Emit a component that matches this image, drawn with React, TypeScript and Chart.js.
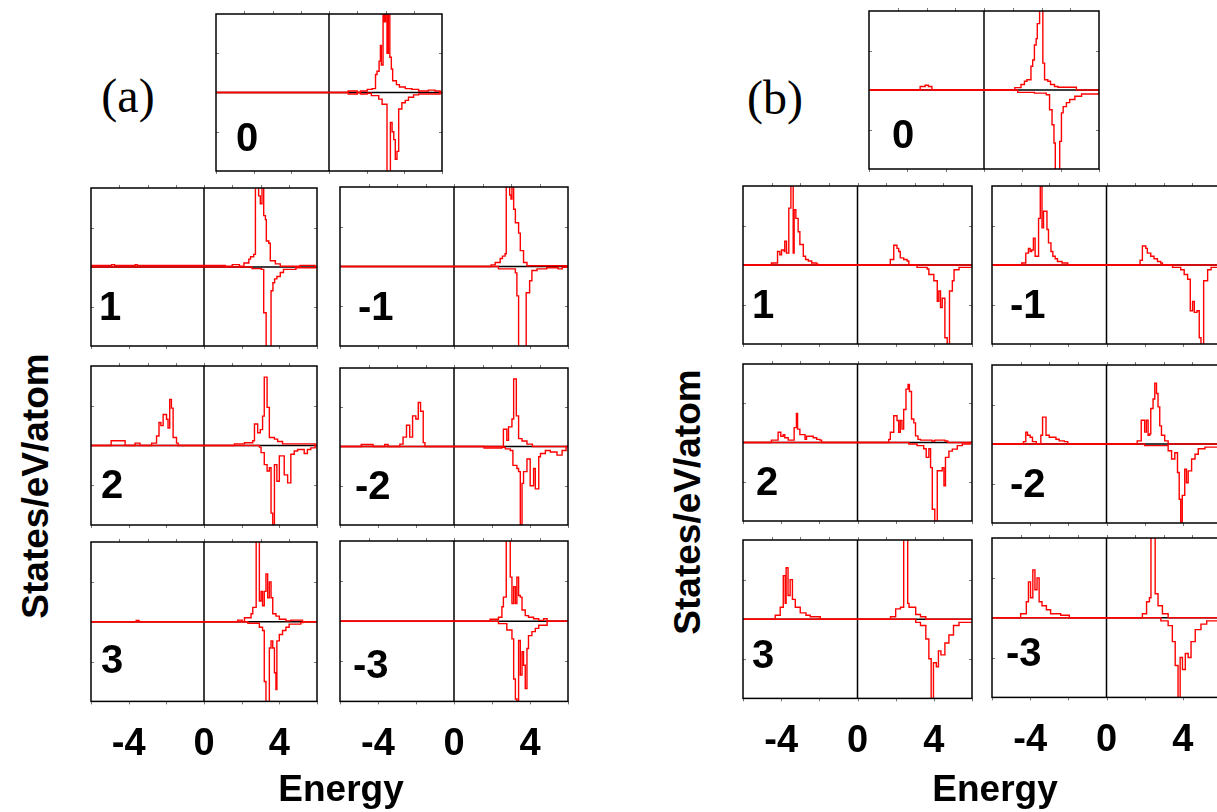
import React, { useEffect, useRef } from "react";
import { Chart, registerables } from "chart.js";

Chart.register(...registerables);

// ---------- data (energy in eV, DOS in panel units; up = positive, down = negative) ----------
const energyTickLabels = [-4, 0, 4];
const energyMin = -6;
const energyMax = 6;
const dosMin = -1;
const dosMax = 1;

// (a) panels
const a0Up = [[-6,0],[1.02,0.02],[1.5,0],[1.67,0.02],[2.03,0.04],[2.29,0.05],[2.47,0.23],[2.55,0.27],[2.66,0.4],[2.73,0.6],[2.78,0.35],[2.87,1.2],[2.93,0.9],[3.0,1.3],[3.08,0.5],[3.15,1.1],[3.23,0.45],[3.31,0.3],[3.38,0.15],[3.58,0.1],[3.74,0.07],[4.05,0.05],[4.4,0.04],[4.76,0.02],[5.28,0.03],[5.63,0.02],[5.9,0],[6,0]];
const a0Dn = [[-6,0],[1.02,-0.02],[1.5,0],[1.67,-0.02],[2.03,-0.01],[2.25,-0.04],[2.64,-0.085],[2.82,-0.15],[3.08,-1.1],[3.26,-0.38],[3.35,-0.5],[3.44,-0.6],[3.52,-0.85],[3.61,-0.75],[3.7,-0.21],[3.87,-0.13],[4.05,-0.1],[4.22,-0.06],[4.49,-0.03],[4.76,-0.02],[5.9,0],[6,0]];
const a1Up = [[-6,0.02],[-4.9,0.03],[-4.75,0.02],[-3.65,0.03],[-3.55,0.02],[1.13,0.01],[1.5,0.03],[1.88,0.01],[2.12,0.05],[2.38,0.1],[2.47,0.13],[2.64,0.16],[2.73,1.2],[2.9,0.9],[2.99,0.8],[3.08,1.1],[3.17,0.65],[3.26,0.6],[3.31,0.33],[3.44,0.3],[3.52,0.08],[3.79,0.04],[4.05,0.01],[5.1,0.02],[5.9,0],[6,0]];
const a1Dn = [[-6,0],[2.55,-0.02],[3.04,-0.03],[3.17,-0.58],[3.3,-1.1],[3.56,-0.3],[3.66,-0.2],[3.75,-0.15],[3.87,-0.12],[4.05,-0.07],[4.22,-0.03],[4.88,-0.01],[5.9,0],[6,0]];
const am1Up = [[-6,0],[1.95,0.02],[2.17,0.05],[2.43,0.1],[2.55,0.13],[2.69,0.16],[2.75,1.2],[2.93,0.9],[3.0,0.85],[3.05,1.1],[3.14,0.72],[3.23,0.55],[3.4,0.42],[3.49,0.2],[3.66,0.05],[3.84,0.01],[5.9,0],[6,0]];
const am1Dn = [[-6,0],[2.34,-0.03],[3.23,-0.08],[3.31,-0.37],[3.4,-1.1],[3.8,-0.33],[3.98,-0.18],[4.1,-0.05],[4.37,-0.03],[4.88,-0.015],[5.48,-0.03],[5.7,-0.01],[5.9,0],[6,0]];
const a2Up = [[-6,0],[-4.93,0.06],[-4.19,0],[-3.66,0.03],[-3.4,0],[-2.78,0.03],[-2.52,0.12],[-2.39,0.29],[-2.29,0.25],[-2.17,0.39],[-1.99,0.33],[-1.91,0.22],[-1.82,0.58],[-1.73,0.47],[-1.64,0.1],[-1.46,0.03],[-1.37,0],[1.62,0.02],[2.15,0.035],[2.59,0.06],[2.68,0.27],[2.85,0.16],[2.99,0.2],[3.11,0.37],[3.2,0.86],[3.35,0.48],[3.47,0.1],[3.74,0.08],[3.91,0.05],[4.17,0.02],[4.8,0.02],[5.9,0],[6,0]];
const a2Dn = [[-6,0],[2.94,-0.02],[3.03,-0.09],[3.2,-0.24],[3.35,-0.32],[3.47,-0.28],[3.56,-0.85],[3.65,-1.0],[3.74,-0.24],[3.87,-0.45],[4.0,-0.13],[4.26,-0.37],[4.44,-0.47],[4.61,-0.11],[4.79,-0.07],[4.97,-0.05],[5.32,-0.1],[5.49,-0.05],[5.67,-0.03],[5.9,0],[6,0]];
const am2Up = [[-6,0],[-4.88,0.025],[-4.26,0],[-3.65,0.025],[-3.47,0],[-2.85,0.03],[-2.68,0.12],[-2.5,0.27],[-2.33,0.12],[-2.18,0.39],[-2.01,0.35],[-1.88,0.56],[-1.76,0.45],[-1.62,0.05],[-1.53,0],[2.6,0.22],[2.78,0.08],[2.87,0.25],[3.05,0.35],[3.14,0.86],[3.28,0.39],[3.4,0.1],[3.58,0.07],[3.84,0.03],[4.13,0],[6,0]];
const am2Dn = [[-6,0],[1.58,-0.02],[2.52,-0.01],[2.7,-0.03],[2.96,-0.05],[3.1,-0.24],[3.31,-0.28],[3.4,-0.32],[3.49,-1.0],[3.58,-0.47],[3.66,-0.32],[3.84,-0.16],[4.01,-0.5],[4.19,-0.28],[4.28,-0.54],[4.46,-0.13],[4.55,-0.09],[4.81,-0.05],[5.07,-0.07],[5.42,-0.11],[5.69,-0.05],[5.9,0],[6,0]];
const a3Up = [[-6,0],[-3.6,0.015],[-3.45,0],[1.79,0.02],[2.03,0],[2.15,0.05],[2.5,0.1],[2.59,0.18],[2.77,1.2],[2.94,0.26],[3.03,0.38],[3.11,0.2],[3.2,0.38],[3.29,0.6],[3.38,0.3],[3.47,0.5],[3.56,0.3],[3.65,0.1],[3.82,0.07],[4.0,0.03],[4.35,0.01],[4.61,0.02],[5.23,0],[6,0]];
const a3Dn = [[-6,0],[2.33,-0.02],[2.94,-0.07],[3.11,-0.11],[3.2,-0.75],[3.29,-1.05],[3.47,-0.33],[3.56,-0.24],[3.65,-0.33],[3.74,-0.64],[3.82,-0.85],[3.87,-0.24],[4.0,-0.16],[4.17,-0.11],[4.35,-0.07],[4.52,-0.03],[5.14,-0.01],[5.25,0],[6,0]];
const am3Up = [[-6,0],[1.9,0.025],[2.34,0.05],[2.52,0.18],[2.6,0.3],[2.75,1.2],[2.96,0.55],[3.05,0.22],[3.14,0.43],[3.23,0.22],[3.31,0.55],[3.4,0.32],[3.49,0.3],[3.58,0.14],[3.75,0.07],[3.92,0.05],[4.19,0.03],[4.46,0.01],[4.72,0.03],[4.9,0],[6,0]];
const am3Dn = [[-6,0],[2.34,-0.03],[2.78,-0.11],[3.05,-0.22],[3.14,-0.72],[3.23,-0.97],[3.31,-1.05],[3.4,-0.24],[3.49,-0.67],[3.58,-0.38],[3.66,-0.55],[3.75,-0.84],[3.84,-0.34],[3.92,-0.18],[4.1,-0.13],[4.28,-0.09],[4.46,-0.05],[4.9,0],[6,0]];

// (b) panels
const b0Up = [[-6,0],[-3.33,0.045],[-3.07,0.06],[-2.9,0.045],[-2.72,0],[1.61,0.03],[1.93,0.07],[2.11,0.11],[2.24,0.13],[2.45,0.3],[2.54,0.38],[2.63,0.57],[2.72,0.65],[2.78,0.84],[2.9,1.2],[3.07,0.34],[3.16,0.13],[3.33,0.11],[3.47,0.07],[3.68,0.045],[3.86,0.035],[4.82,0],[6,0]];
const b0Dn = [[-6,0],[1.76,-0.03],[2.63,-0.04],[3.16,-0.04],[3.25,-0.06],[3.42,-0.25],[3.55,-0.44],[3.65,-0.67],[3.72,-1.05],[3.95,-0.65],[4.04,-0.29],[4.13,-0.21],[4.3,-0.16],[4.47,-0.12],[4.74,-0.08],[5.09,-0.05],[6,-0.03]];
const b1Up = [[-6,0],[-4.51,0.025],[-4.19,0.17],[-4.07,0.13],[-3.98,0.19],[-3.84,0.17],[-3.81,0.3],[-3.72,0.15],[-3.6,0.72],[-3.49,1.2],[-3.37,0.15],[-3.32,0.7],[-3.23,0.59],[-3.11,0.42],[-3.02,0.26],[-2.84,0.11],[-2.72,0.07],[-2.58,0.05],[-2.4,0.025],[-2.14,0.01],[-2.06,0],[1.72,0.07],[1.9,0.25],[2.07,0.21],[2.16,0.17],[2.24,0.09],[2.42,0.07],[2.6,0.05],[2.69,0],[6,0]];
const b1Dn = [[-6,0],[3.12,-0.03],[3.65,-0.05],[3.74,-0.12],[4.0,-0.2],[4.18,-0.46],[4.26,-0.33],[4.35,-0.54],[4.44,-0.42],[4.58,-0.92],[4.7,-1.05],[4.82,-0.33],[4.97,-0.2],[5.06,-0.06],[5.32,-0.03],[6,-0.03]];
const bm1Up = [[-6,0],[-4.44,0.025],[-4.23,0.15],[-4.09,0.21],[-4.0,0.17],[-3.92,0.19],[-3.83,0.34],[-3.74,0.11],[-3.56,0.59],[-3.47,1.2],[-3.38,0.47],[-3.3,0.68],[-3.12,0.45],[-3.04,0.28],[-2.91,0.17],[-2.81,0.11],[-2.69,0.08],[-2.57,0.045],[-2.33,0.025],[-2.03,0],[1.76,0.06],[1.88,0.24],[2.06,0.21],[2.14,0.15],[2.32,0.11],[2.49,0.08],[2.67,0.045],[2.84,0.025],[2.93,0],[6,0]];
const bm1Dn = [[-6,0],[3.46,-0.03],[3.89,-0.06],[4.07,-0.12],[4.25,-0.18],[4.39,-0.58],[4.51,-0.46],[4.6,-0.6],[4.74,-0.58],[4.86,-0.92],[4.95,-1.05],[5.09,-0.2],[5.16,-0.2],[5.3,-0.06],[5.48,-0.03],[6,-0.03]];
const b2Up = [[-6,0],[-4.51,0.03],[-4.16,0.13],[-4.02,0.08],[-3.89,0.1],[-3.81,0.06],[-3.63,0.03],[-3.37,0.03],[-3.32,0.19],[-3.2,0.37],[-3.14,0.17],[-3.02,0.1],[-2.75,0.04],[-2.67,0.08],[-2.49,0.08],[-2.32,0.06],[-2.14,0.04],[-1.97,0.03],[-1.88,0],[1.64,0.04],[1.72,0.13],[1.9,0.34],[2.07,0.28],[2.16,0.13],[2.24,0.28],[2.33,0.17],[2.42,0.42],[2.54,0.68],[2.65,0.74],[2.72,0.65],[2.83,0.3],[2.95,0.25],[3.04,0.085],[3.17,0.04],[3.3,0.03],[3.9,0.02],[4.05,0.03],[4.58,0.02],[4.73,0],[6,0]];
const b2Dn = [[-6,0],[2.69,-0.02],[3.12,-0.04],[3.47,-0.08],[3.6,-0.19],[3.74,-0.08],[3.83,-0.32],[3.92,-0.85],[4.05,-1.05],[4.18,-0.36],[4.44,-0.32],[4.53,-0.55],[4.61,-0.19],[4.79,-0.11],[4.97,-0.085],[5.23,-0.04],[5.49,-0.02],[5.9,0],[6,0]];
const bm2Up = [[-6,0],[-4.35,0.03],[-4.23,0.15],[-4.14,0.11],[-4.0,0.085],[-3.88,0.03],[-3.68,0],[-3.44,0.11],[-3.35,0.34],[-3.17,0.11],[-3.0,0.085],[-2.83,0.085],[-2.65,0.06],[-2.48,0.04],[-2.21,0.03],[-2.03,0],[1.61,0.04],[1.82,0.3],[2.0,0.15],[2.09,0.3],[2.18,0.11],[2.27,0.13],[2.32,0.45],[2.44,0.57],[2.53,0.77],[2.62,0.64],[2.7,0.47],[2.79,0.23],[2.88,0.11],[3.05,0.04],[3.23,0],[6,0]];
const bm2Dn = [[-6,0],[2.0,-0.02],[3.23,-0.085],[3.41,-0.19],[3.58,-0.11],[3.72,-0.36],[3.81,-0.7],[3.89,-1.05],[3.97,-0.65],[4.1,-0.32],[4.19,-0.49],[4.28,-0.34],[4.46,-0.19],[4.64,-0.13],[4.81,-0.06],[5.16,-0.04],[6,-0.03]];
const b3Up = [[-6,0],[-4.31,0.05],[-4.05,0.15],[-3.89,0.55],[-3.79,0.2],[-3.74,0.65],[-3.64,0.3],[-3.53,0.5],[-3.41,0.25],[-3.26,0.15],[-3.0,0.08],[-2.7,0.05],[-2.48,0.03],[-1.95,0],[1.73,0.03],[2.0,0.13],[2.25,0.15],[2.42,1.2],[2.63,0.2],[2.7,0.15],[3.05,0.06],[3.3,0.03],[3.58,0],[6,0]];
const b3Dn = [[-6,0],[3.05,-0.04],[3.3,-0.08],[3.58,-0.25],[3.74,-0.5],[3.86,-1.05],[3.98,-0.55],[4.13,-0.6],[4.24,-0.4],[4.37,-0.45],[4.58,-0.3],[4.79,-0.2],[5.03,-0.08],[5.32,-0.04],[6,-0.03]];
const bm3Up = [[-6,0],[-4.5,0.05],[-4.2,0.2],[-4.09,0.45],[-3.98,0.25],[-3.86,0.6],[-3.75,0.35],[-3.64,0.5],[-3.53,0.2],[-3.38,0.15],[-3.15,0.1],[-2.93,0.05],[-2.4,0.03],[-1.95,0],[1.88,0.05],[2.1,0.2],[2.25,0.25],[2.33,1.2],[2.55,0.3],[2.7,0.15],[2.93,0.05],[3.23,0],[6,0]];
const bm3Dn = [[-6,0],[2.85,-0.04],[3.23,-0.1],[3.45,-0.3],[3.6,-0.6],[3.75,-1.05],[3.86,-0.5],[3.98,-0.65],[4.13,-0.45],[4.28,-0.5],[4.43,-0.3],[4.65,-0.15],[4.95,-0.08],[5.25,-0.04],[6,-0.03]];

// ---------- layout ----------
const SANS = '"Liberation Sans", Arial, Helvetica, sans-serif';
const SERIF = '"Liberation Serif", "Times New Roman", serif';
const PAD = 4;
const TICK_PAD = 20;
const AXIS_H = 86;

type Pt = number[];
interface PanelSpec {
  id: string; label: string; up: Pt[]; dn: Pt[];
  left: number; top: number; w: number; h: number;
  bottom: boolean; labelLeft: number; labelY: number;
}

const panels: PanelSpec[] = [
  { id: "a0", label: "0", up: a0Up, dn: a0Dn, left: 216, top: 14, w: 226, h: 157, bottom: false, labelLeft: 236, labelY: 137 },
  { id: "a1", label: "1", up: a1Up, dn: a1Dn, left: 91, top: 188, w: 226, h: 158, bottom: false, labelLeft: 99, labelY: 306 },
  { id: "am1", label: "-1", up: am1Up, dn: am1Dn, left: 340, top: 187, w: 228, h: 159, bottom: false, labelLeft: 358, labelY: 306 },
  { id: "a2", label: "2", up: a2Up, dn: a2Dn, left: 91, top: 366, w: 226, h: 159, bottom: false, labelLeft: 101, labelY: 484 },
  { id: "am2", label: "-2", up: am2Up, dn: am2Dn, left: 340, top: 368, w: 228, h: 157, bottom: false, labelLeft: 355, labelY: 485 },
  { id: "a3", label: "3", up: a3Up, dn: a3Dn, left: 91, top: 542, w: 226, h: 159, bottom: true, labelLeft: 101, labelY: 659 },
  { id: "am3", label: "-3", up: am3Up, dn: am3Dn, left: 340, top: 541, w: 228, h: 160, bottom: true, labelLeft: 353, labelY: 664 },
  { id: "b0", label: "0", up: b0Up, dn: b0Dn, left: 869, top: 11, w: 230, h: 158, bottom: false, labelLeft: 892, labelY: 134 },
  { id: "b1", label: "1", up: b1Up, dn: b1Dn, left: 743, top: 186, w: 229, h: 158, bottom: false, labelLeft: 752, labelY: 304 },
  { id: "bm1", label: "-1", up: bm1Up, dn: bm1Dn, left: 992, top: 186, w: 229, h: 158, bottom: false, labelLeft: 1010, labelY: 304 },
  { id: "b2", label: "2", up: b2Up, dn: b2Dn, left: 743, top: 364, w: 229, h: 157, bottom: false, labelLeft: 756, labelY: 481 },
  { id: "bm2", label: "-2", up: bm2Up, dn: bm2Dn, left: 992, top: 365, w: 229, h: 158, bottom: false, labelLeft: 1010, labelY: 483 },
  { id: "b3", label: "3", up: b3Up, dn: b3Dn, left: 743, top: 540, w: 229, h: 158, bottom: true, labelLeft: 752, labelY: 654 },
  { id: "bm3", label: "-3", up: bm3Up, dn: bm3Dn, left: 992, top: 538, w: 229, h: 159, bottom: true, labelLeft: 1006, labelY: 652 },
];

const framePlugin = {
  id: "dosFrame",
  beforeDatasetsDraw(chart: any) {
    const { ctx, chartArea: a, scales } = chart;
    const x0 = scales.x.getPixelForValue(0);
    const y0 = scales.y.getPixelForValue(0);
    ctx.save();
    ctx.strokeStyle = "#000";
    ctx.lineWidth = 1.5;
    ctx.beginPath();
    ctx.moveTo(a.left, y0);
    ctx.lineTo(a.right, y0);
    ctx.moveTo(x0, a.top);
    ctx.lineTo(x0, a.bottom);
    ctx.stroke();
    ctx.restore();
  },
  afterDatasetsDraw(chart: any) {
    const { ctx, chartArea: a, scales } = chart;
    ctx.save();
    ctx.strokeStyle = "#777";
    ctx.lineWidth = 1;
    ctx.beginPath();
    for (let v = energyMin; v <= energyMax; v += 2) {
      const px = Math.round(scales.x.getPixelForValue(v)) + 0.5;
      ctx.moveTo(px, a.bottom);
      ctx.lineTo(px, a.bottom + 3);
    }
    for (let v = -4.5; v <= 4.5; v += 1.5) {
      const px = Math.round(scales.x.getPixelForValue(v)) + 0.5;
      ctx.moveTo(px, a.top);
      ctx.lineTo(px, a.top - 3);
    }
    for (const v of [-0.5, 0.5]) {
      const py = Math.round(scales.y.getPixelForValue(v)) + 0.5;
      ctx.moveTo(a.left, py);
      ctx.lineTo(a.left + 3, py);
      ctx.moveTo(a.right, py);
      ctx.lineTo(a.right - 3, py);
    }
    ctx.stroke();
    ctx.strokeStyle = "#000";
    ctx.lineWidth = 1.5;
    ctx.strokeRect(a.left, a.top, a.right - a.left, a.bottom - a.top);
    ctx.restore();
  },
};

function Panel({ spec }: { spec: PanelSpec }) {
  const ref = useRef<HTMLCanvasElement | null>(null);
  const cw = spec.w + 2 * PAD;
  const ch = spec.h + 2 * PAD + (spec.bottom ? AXIS_H : 0);

  useEffect(() => {
    if (!ref.current) return;
    const toXY = (arr: Pt[]) => arr.map(([x, y]) => ({ x, y }));
    const lineStyle = {
      borderColor: "rgb(255,0,0)",
      borderWidth: 1.4,
      pointRadius: 0,
      stepped: "before" as const,
      fill: false,
      tension: 0,
    };
    const chart = new Chart(ref.current, {
      type: "line",
      data: {
        datasets: [
          { label: "up", data: toXY(spec.up), ...lineStyle },
          { label: "down", data: toXY(spec.dn), ...lineStyle },
        ],
      },
      options: {
        animation: false,
        responsive: false,
        events: [],
        layout: { padding: PAD },
        plugins: { legend: { display: false }, tooltip: { enabled: false } },
        scales: {
          x: {
            type: "linear",
            min: energyMin,
            max: energyMax,
            display: spec.bottom,
            grid: { display: false, drawTicks: false, tickLength: 0 },
            border: { display: false },
            afterFit: (scale: any) => {
              scale.paddingLeft = 0;
              scale.paddingRight = 0;
            },
            ticks: {
              stepSize: 2,
              autoSkip: false,
              maxRotation: 0,
              minRotation: 0,
              padding: TICK_PAD,
              color: "#000",
              font: { family: SANS, size: 38, weight: "bold", lineHeight: 1.2 },
              callback: (v: any) => (energyTickLabels.includes(Number(v)) ? String(v) : ""),
            },
          },
          y: { type: "linear", min: dosMin, max: dosMax, display: false },
        },
      },
      plugins: [framePlugin],
    } as any);
    return () => chart.destroy();
  }, [spec]);

  return (
    <>
      <canvas
        ref={ref}
        width={cw}
        height={ch}
        style={{ position: "absolute", left: spec.left - PAD, top: spec.top - PAD, width: cw, height: ch }}
      />
      <div
        style={{
          position: "absolute",
          left: spec.labelLeft,
          top: spec.labelY,
          transform: "translateY(-50%)",
          fontFamily: SANS,
          fontWeight: "bold",
          fontSize: 40,
          lineHeight: 1,
          color: "#000",
          whiteSpace: "nowrap",
        }}
      >
        {spec.label}
      </div>
    </>
  );
}

function TextAt(props: { x: number; y: number; text: string; size: number; serif?: boolean; bold?: boolean; rotate?: boolean }) {
  const { x, y, text, size, serif, bold, rotate } = props;
  return (
    <div
      style={{
        position: "absolute",
        left: x,
        top: y,
        transform: `translate(-50%, -50%)${rotate ? " rotate(-90deg)" : ""}`,
        fontFamily: serif ? SERIF : SANS,
        fontWeight: bold ? "bold" : "normal",
        fontSize: size,
        lineHeight: 1,
        whiteSpace: "nowrap",
        color: "#000",
      }}
    >
      {text}
    </div>
  );
}

export default function App() {
  return (
    <div
      style={{
        position: "fixed",
        left: 0,
        top: 0,
        width: 1217,
        height: 812,
        overflow: "hidden",
        background: "#fff",
      }}
    >
      {panels.map((p) => (
        <Panel key={p.id} spec={p} />
      ))}
      <TextAt x={128} y={96} text="(a)" size={48} serif />
      <TextAt x={775} y={98} text="(b)" size={48} serif />
      <TextAt x={35} y={486} text="States/eV/atom" size={37} bold rotate />
      <TextAt x={687} y={502} text="States/eV/atom" size={37} bold rotate />
      <TextAt x={341} y={788} text="Energy" size={37} bold />
      <TextAt x={995} y={788} text="Energy" size={37} bold />
    </div>
  );
}
